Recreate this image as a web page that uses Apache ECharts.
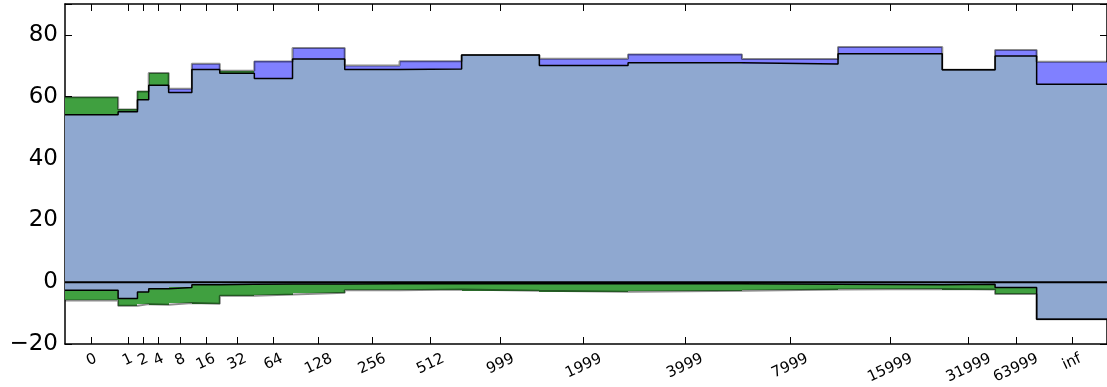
<!DOCTYPE html>
<html>
<head>
<meta charset="utf-8">
<script src="https://cdn.jsdelivr.net/npm/echarts@6/dist/echarts.min.js"></script>
<style>
html,body{margin:0;padding:0;background:#fff;}
#chart{width:1107px;height:387px;}
</style>
</head>
<body>
<div id="chart"></div>
<script>
// ---- data ----
const categories = ['0','1','2','4','8','16','32','64','128','256','512','999','1999','3999','7999','15999','31999','63999','inf'];
const binWidths = [53.3, 19.4, 11.3, 20, 23.3, 28, 34.7, 38.3, 52.4, 55, 62.3, 78, 89, 114.3, 96.4, 104.6, 53, 41.7, 70.6];
const innerTop = [54.2, 55.1, 59.0, 63.7, 61.4, 68.8, 67.6, 65.9, 72.2, 68.8, 69.0, 73.5, 70.1, 71.0, 70.6, 73.9, 68.7, 73.2, 64.0];
const outerTop = [59.8, 55.9, 61.7, 67.7, 62.6, 70.7, 68.4, 71.4, 75.8, 70.1, 71.5, 73.5, 72.3, 73.7, 72.2, 76.1, 68.7, 75.1, 71.3];
const topBandKind = ['g','g','g','g','b','b','g','b','b','b','b','-','b','b','b','b','-','b','b'];
const innerBottom = [-2.65, -5.3, -3.2, -2.1, -1.7, -0.8, -0.7, -0.6, -0.6, -0.5, -0.5, -0.5, -0.5, -0.5, -0.7, -0.8, -0.7, -1.7, -12.0];
const outerBottom = [-5.9, -7.6, -7.1, -7.3, -6.7, -7.0, -4.4, -4.0, -3.4, -2.6, -2.4, -2.75, -3.1, -2.8, -2.4, -2.2, -2.4, -3.8, -12.0];
const yTicks = [-20, 0, 20, 40, 60, 80];

// ---- derived ----
const n = categories.length;
const edges = [0];
binWidths.forEach((w, i) => edges.push(edges[i] + w));
const total = edges[n];
const centers = categories.map((c, i) => (edges[i] + edges[i + 1]) / 2);
const Y_MIN = -20, Y_MAX = 90;

const LB = '#8fa8d0', BLUE = '#8080ff', GREEN = '#40a040';
const fontFam = 'DejaVu Sans';
const X_FONT = 15, ROT = 25;

const mctx = document.createElement('canvas').getContext('2d');
mctx.font = X_FONT + 'px "DejaVu Sans"';
const labelWidths = categories.map(c => mctx.measureText(c).width);

function stepPts(vals) {
  const pts = vals.map((v, i) => [edges[i], v]);
  pts.push([edges[n], vals[n - 1]]);
  return pts;
}

const bands = [];
for (let i = 0; i < n; i++) {
  if (topBandKind[i] !== '-') {
    bands.push([edges[i], edges[i + 1], Math.min(innerTop[i], outerTop[i]), Math.max(innerTop[i], outerTop[i]), topBandKind[i] === 'g' ? 0 : 1]);
  }
  if (outerBottom[i] !== innerBottom[i]) {
    bands.push([edges[i], edges[i + 1], outerBottom[i], innerBottom[i], 0]);
  }
}

const chart = echarts.init(document.getElementById('chart'), null, {renderer: 'canvas'});
const axisLine = {show: true, onZero: false, lineStyle: {color: '#000', width: 1.5}};

chart.setOption({
  animation: false,
  grid: {left: 65, right: -4, top: 4, bottom: 43, containLabel: false},
  xAxis: [{
    type: 'value', position: 'bottom', min: 0, max: total,
    axisLine: axisLine,
    axisTick: {show: true, inside: true, length: 7, customValues: centers, lineStyle: {color: '#000', width: 1}},
    axisLabel: {show: false},
    splitLine: {show: false}
  }, {
    type: 'value', position: 'top', min: 0, max: total,
    axisLine: axisLine,
    axisTick: {show: true, inside: true, length: 7, customValues: centers, lineStyle: {color: '#000', width: 1}},
    axisLabel: {show: false},
    splitLine: {show: false}
  }],
  yAxis: [{
    type: 'value', position: 'left', min: Y_MIN, max: Y_MAX, interval: 20,
    axisLine: axisLine,
    axisTick: {show: true, inside: true, length: 7, lineStyle: {color: '#000', width: 1}},
    axisLabel: {show: true, margin: 7, fontSize: 23, color: '#000', fontFamily: fontFam,
      formatter: v => yTicks.indexOf(v) >= 0 ? (v < 0 ? '\u2212' + Math.abs(v) : String(v)) : ''},
    splitLine: {show: false}
  }, {
    type: 'value', position: 'right', min: Y_MIN, max: Y_MAX, interval: 20,
    axisLine: axisLine,
    axisTick: {show: true, inside: true, length: 7, lineStyle: {color: '#000', width: 1}},
    axisLabel: {show: false},
    splitLine: {show: false}
  }],
  series: [
    {type: 'line', data: stepPts(innerTop), step: 'end', symbol: 'none', z: 1,
      lineStyle: {width: 0, opacity: 0}, areaStyle: {color: LB, opacity: 1, origin: 0}},
    {type: 'line', data: stepPts(innerBottom), step: 'end', symbol: 'none', z: 1,
      lineStyle: {width: 0, opacity: 0}, areaStyle: {color: LB, opacity: 1, origin: 0}},
    {type: 'custom', data: bands, z: 2, encode: {x: [0, 1], y: [2, 3]},
      renderItem: function (params, api) {
        const p1 = api.coord([api.value(0), api.value(3)]);
        const p2 = api.coord([api.value(1), api.value(2)]);
        const x0 = Math.round(p1[0]), x1 = Math.round(p2[0]);
        const y0 = Math.round(p1[1]), y1 = Math.round(p2[1]);
        return {type: 'rect', shape: {x: x0, y: y0, width: x1 - x0, height: y1 - y0},
          style: {fill: api.value(4) === 0 ? GREEN : BLUE}};
      }},
    {type: 'line', data: stepPts(outerTop), step: 'end', symbol: 'none', z: 3,
      lineStyle: {color: 'rgba(0,0,0,0.45)', width: 2}},
    {type: 'line', data: stepPts(outerBottom), step: 'end', symbol: 'none', z: 3,
      lineStyle: {color: 'rgba(0,0,0,0.45)', width: 2}},
    {type: 'line', data: stepPts(innerTop), step: 'end', symbol: 'none', z: 4,
      lineStyle: {color: '#000', width: 1.5}},
    {type: 'line', data: stepPts(innerBottom), step: 'end', symbol: 'none', z: 4,
      lineStyle: {color: '#000', width: 1.5}},
    {type: 'line', data: [[0, 0], [total, 0]], symbol: 'none', z: 5,
      lineStyle: {color: '#000', width: 2}},
    // rotated category labels under the bottom axis
    {type: 'custom', clip: false, z: 6, silent: true,
      data: centers.map((c, i) => [c, Y_MIN, i]), encode: {x: 0, y: 1},
      renderItem: function (params, api) {
        const i = api.value(2);
        const p = api.coord([api.value(0), api.value(1)]);
        const w = labelWidths[i];
        return {type: 'text', x: p[0], y: p[1] + 14 + Math.sin(ROT * Math.PI / 180) * w / 2,
          rotation: ROT * Math.PI / 180,
          style: {text: categories[i], fill: '#000', fontSize: X_FONT, fontFamily: fontFam,
            align: 'center', verticalAlign: 'middle'}};
      }}
  ]
});
</script>
</body>
</html>
